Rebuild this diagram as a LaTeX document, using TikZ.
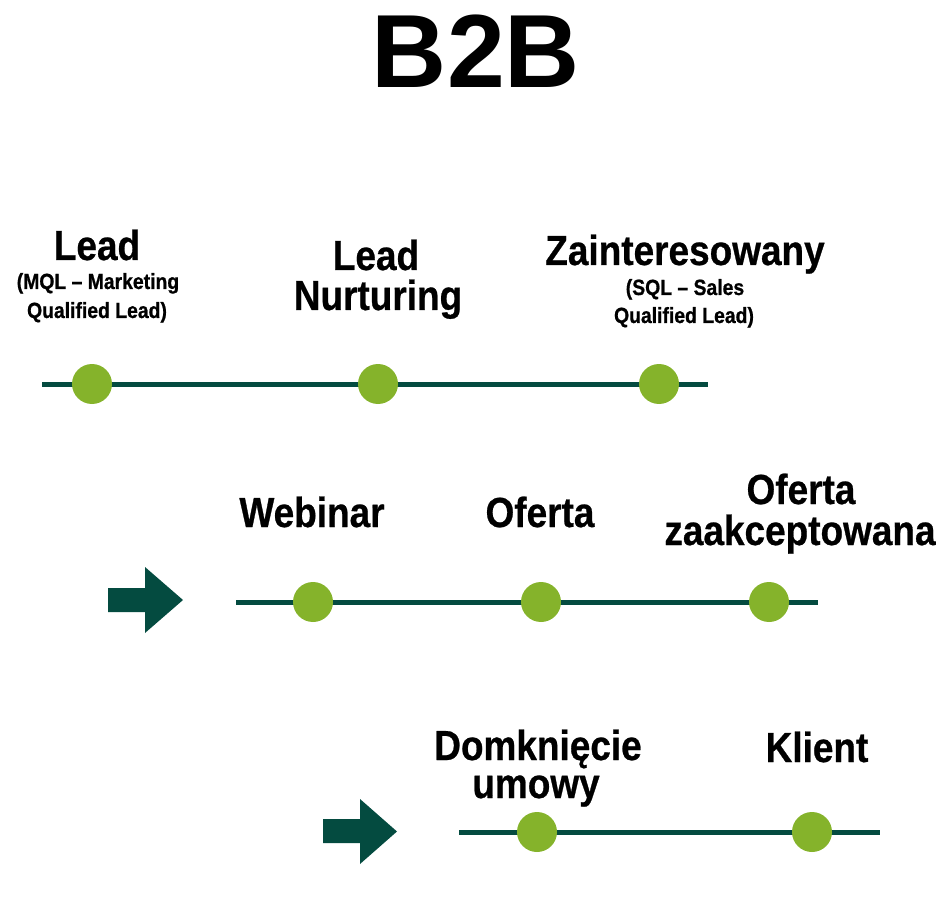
\documentclass[tikz,border=0pt]{standalone}
\usepackage{fontspec}
\setmainfont{Liberation Sans}
\newfontfamily\bigf[FakeStretch=0.88,FakeBold=0.6]{Liberation Sans}
\newfontfamily\smallf[FakeStretch=0.88,FakeBold=0.8]{Liberation Sans}
\definecolor{dotgreen}{RGB}{133,179,43}
\definecolor{darkline}{RGB}{4,75,64}
\begin{document}
\begin{tikzpicture}[x=1pt,y=-1pt,
  lbl/.style={anchor=base,inner sep=0pt,font=\bigf\bfseries\fontsize{42}{42}\selectfont},
  sub/.style={anchor=base,inner sep=0pt,font=\smallf\bfseries\fontsize{22}{22}\selectfont},
  tl/.style={draw=darkline,line width=5pt},
  dot/.style={circle,fill=dotgreen,minimum size=40pt,inner sep=0pt},
  arr/.style={fill=darkline}]
\useasboundingbox (0,0) rectangle (946,912);
% title
\node[anchor=base,inner sep=0pt,font=\bfseries\fontsize{104}{104}\selectfont] (title) at (476,88) {B2B};
% row 1 labels
\node[lbl] (lead) at (97,260) {Lead};
\node[sub] (mql1) at (98,289) {(MQL – Marketing};
\node[sub] (mql2) at (97,318) {Qualified Lead)};
\node[lbl] (nur1) at (376,270) {Lead};
\node[lbl] (nur2) at (378,310) {Nurturing};
\node[lbl] (zai) at (685,265) {Zainteresowany};
\node[sub] (sql1) at (685,295) {(SQL – Sales};
\node[sub] (sql2) at (684,323) {Qualified Lead)};
% row 1 line and dots
\coordinate (r1a) at (42,384);
\coordinate (r1b) at (708,384);
\draw[tl] (r1a) -- (r1b);
\node[dot] (d11) at (92,384) {};
\node[dot] (d12) at (378,384) {};
\node[dot] (d13) at (659,384) {};
% row 2 labels
\node[lbl] (web) at (312,527) {Webinar};
\node[lbl] (of1) at (540,527) {Oferta};
\node[lbl] (of2) at (801,504) {Oferta};
\node[lbl] (zaa) at (800,545) {zaakceptowana};
% row 2 arrow, line and dots
\fill[arr] (108,588) -- (145,588) -- (145,567) -- (183,600) -- (145,633) -- (145,612) -- (108,612) -- cycle;
\coordinate (r2a) at (236,602);
\coordinate (r2b) at (818,602);
\draw[tl] (r2a) -- (r2b);
\node[dot] (d21) at (313,602) {};
\node[dot] (d22) at (541,602) {};
\node[dot] (d23) at (769,602) {};
% row 3 labels
\node[lbl] (dom) at (538,760) {Domknięcie};
\node[lbl] (umo) at (536,798) {umowy};
\node[lbl] (kli) at (817,762) {Klient};
% row 3 arrow, line and dots
\fill[arr] (323,819) -- (360,819) -- (360,799) -- (397,831.5) -- (360,864) -- (360,843) -- (323,843) -- cycle;
\coordinate (r3a) at (459,832);
\coordinate (r3b) at (880,832);
\draw[tl] (r3a) -- (r3b);
\node[dot] (d31) at (537,832) {};
\node[dot] (d32) at (812,832) {};
\end{tikzpicture}
\end{document}
